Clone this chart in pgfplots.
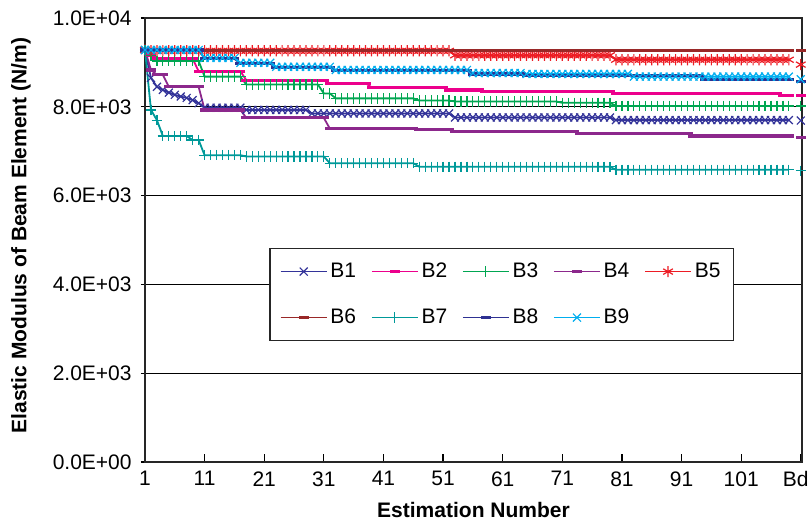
\documentclass[border=0pt]{standalone}
\usepackage{fontspec}
\setmainfont{Liberation Sans}
\usepackage{pgfplots}
\pgfplotsset{compat=1.18}
\usepackage{pgfplotstable}

\definecolor{colBa}{RGB}{51,51,153}
\definecolor{colBb}{RGB}{236,0,140}
\definecolor{colBc}{RGB}{0,166,81}
\definecolor{colBd}{RGB}{140,40,140}
\definecolor{colBe}{RGB}{237,28,36}
\definecolor{colBf}{RGB}{153,40,40}
\definecolor{colBg}{RGB}{0,153,153}
\definecolor{colBh}{RGB}{46,49,146}
\definecolor{colBi}{RGB}{0,174,239}

% estimation number, then B1 ... B9
\pgfplotstableread{
x b1 b2 b3 b4 b5 b6 b7 b8 b9
1 9280 9280 9280 9280 9280 9280 9280 9280 9280
2 8650 9150 9150 8830 9260 9270 7930 9280 9280
3 8450 9080 9030 8720 9260 9270 7700 9280 9280
4 8380 9080 9030 8720 9260 9270 7340 9280 9280
5 8320 9080 9030 8450 9260 9270 7340 9280 9280
6 8270 9080 9030 8450 9260 9270 7340 9280 9280
7 8230 9080 9030 8450 9260 9270 7340 9280 9280
8 8200 9080 9030 8450 9260 9270 7340 9280 9280
9 8150 9080 9030 8450 9260 9270 7250 9280 9280
10 8080 8800 9030 8450 9260 9270 7250 9280 9280
11 7980 8800 8680 7930 9260 9270 6910 9080 9100
12 7980 8800 8680 7930 9260 9270 6910 9080 9100
13 7980 8800 8680 7930 9260 9270 6910 9080 9100
14 7980 8800 8680 7930 9260 9270 6910 9080 9100
15 7980 8800 8680 7930 9260 9270 6910 9080 9100
16 7980 8800 8680 7930 9260 9270 6910 9080 9100
17 7980 8800 8680 7930 9260 9270 6910 8970 8990
18 7930 8600 8500 7750 9260 9270 6880 8970 8990
19 7930 8600 8500 7750 9260 9270 6880 8970 8990
20 7930 8600 8500 7750 9260 9270 6880 8970 8990
21 7930 8600 8500 7750 9260 9270 6880 8970 8990
22 7930 8600 8500 7750 9260 9270 6880 8970 8990
23 7930 8600 8500 7750 9260 9270 6880 8880 8900
24 7930 8600 8500 7750 9260 9270 6880 8880 8900
25 7930 8600 8500 7750 9260 9270 6880 8880 8900
26 7930 8600 8500 7750 9260 9270 6880 8880 8900
27 7930 8600 8500 7750 9260 9270 6880 8880 8900
28 7930 8600 8500 7750 9260 9270 6880 8880 8900
29 7850 8600 8500 7750 9260 9270 6880 8880 8900
30 7850 8600 8500 7750 9260 9270 6880 8880 8900
31 7850 8600 8300 7750 9260 9270 6880 8880 8900
32 7850 8530 8300 7510 9260 9270 6730 8880 8900
33 7850 8530 8190 7510 9260 9270 6730 8810 8830
34 7850 8530 8190 7510 9260 9270 6730 8810 8830
35 7850 8530 8190 7510 9260 9270 6730 8810 8830
36 7850 8530 8190 7510 9260 9270 6730 8810 8830
37 7850 8530 8190 7510 9260 9270 6730 8810 8830
38 7850 8530 8190 7510 9260 9270 6730 8810 8830
39 7850 8440 8190 7510 9260 9270 6730 8810 8830
40 7850 8440 8190 7510 9260 9270 6730 8810 8830
41 7850 8440 8190 7510 9260 9270 6730 8810 8830
42 7850 8440 8190 7510 9260 9270 6730 8810 8830
43 7850 8440 8190 7510 9260 9270 6730 8810 8830
44 7850 8440 8190 7510 9260 9270 6730 8810 8830
45 7850 8440 8190 7510 9260 9270 6730 8810 8830
46 7850 8440 8190 7510 9260 9270 6730 8810 8830
47 7850 8440 8140 7480 9260 9270 6650 8810 8830
48 7850 8440 8140 7480 9260 9270 6650 8810 8830
49 7850 8440 8140 7480 9260 9270 6650 8810 8830
50 7850 8440 8140 7480 9260 9270 6650 8810 8830
51 7850 8440 8140 7480 9260 9270 6650 8810 8830
52 7850 8380 8140 7480 9260 9270 6650 8810 8830
53 7760 8380 8120 7440 9160 9270 6650 8810 8830
54 7760 8380 8120 7440 9160 9270 6650 8810 8830
55 7760 8380 8120 7440 9160 9270 6650 8810 8830
56 7760 8380 8120 7440 9160 9270 6650 8740 8760
57 7760 8380 8120 7440 9160 9270 6650 8740 8760
58 7760 8340 8120 7440 9160 9270 6650 8740 8760
59 7760 8340 8120 7440 9160 9270 6650 8740 8760
60 7760 8340 8120 7440 9160 9270 6650 8740 8760
61 7760 8340 8120 7440 9160 9270 6650 8740 8760
62 7760 8340 8120 7440 9160 9270 6650 8740 8760
63 7760 8340 8120 7440 9160 9270 6650 8740 8760
64 7760 8340 8120 7440 9160 9270 6650 8740 8760
65 7760 8340 8120 7440 9160 9270 6650 8700 8740
66 7760 8340 8120 7440 9160 9270 6650 8700 8740
67 7760 8340 8120 7440 9160 9270 6650 8700 8740
68 7760 8340 8120 7440 9160 9270 6650 8700 8740
69 7760 8340 8120 7440 9160 9270 6650 8700 8740
70 7760 8340 8120 7440 9160 9270 6650 8700 8740
71 7760 8340 8090 7440 9160 9270 6650 8700 8740
72 7760 8340 8090 7440 9160 9270 6650 8700 8740
73 7760 8340 8090 7440 9160 9270 6650 8700 8740
74 7760 8340 8090 7390 9160 9270 6650 8700 8740
75 7760 8340 8090 7390 9160 9270 6650 8700 8740
76 7760 8340 8090 7390 9160 9270 6650 8700 8740
77 7760 8340 8090 7390 9160 9270 6650 8700 8740
78 7760 8340 8090 7390 9160 9270 6650 8700 8740
79 7760 8340 8090 7390 9160 9270 6650 8700 8740
80 7700 8300 8020 7390 9060 9270 6580 8700 8740
81 7700 8300 8020 7390 9060 9270 6580 8700 8740
82 7700 8300 8020 7390 9060 9270 6580 8700 8740
83 7700 8300 8020 7390 9060 9270 6580 8700 8680
84 7700 8300 8020 7390 9060 9270 6580 8700 8680
85 7700 8300 8020 7390 9060 9270 6580 8700 8680
86 7700 8300 8020 7390 9060 9270 6580 8700 8680
87 7700 8300 8020 7390 9060 9270 6580 8700 8680
88 7700 8300 8020 7390 9060 9270 6580 8700 8680
89 7700 8300 8020 7390 9060 9270 6580 8700 8680
90 7700 8300 8020 7390 9060 9270 6580 8700 8680
91 7700 8300 8020 7390 9060 9270 6580 8700 8680
92 7700 8300 8020 7390 9060 9270 6580 8700 8680
93 7700 8300 8020 7340 9060 9270 6580 8700 8680
94 7700 8300 8020 7340 9060 9270 6580 8700 8680
95 7700 8300 8020 7340 9060 9270 6580 8620 8680
96 7700 8300 8020 7340 9060 9270 6580 8620 8680
97 7700 8300 8020 7340 9060 9270 6580 8620 8680
98 7700 8300 8020 7340 9060 9270 6580 8620 8680
99 7700 8300 8020 7340 9060 9270 6580 8620 8680
100 7700 8300 8020 7340 9060 9270 6580 8620 8680
101 7700 8300 8020 7340 9060 9270 6580 8620 8680
102 7700 8300 8020 7340 9060 9270 6580 8620 8680
103 7700 8300 8020 7340 9060 9270 6580 8620 8680
104 7700 8300 8020 7340 9060 9270 6580 8620 8680
105 7700 8300 8020 7340 9060 9270 6580 8620 8680
106 7700 8300 8020 7340 9060 9270 6580 8620 8680
107 7700 8300 8020 7340 9060 9270 6580 8620 8680
108 7700 8250 8020 7340 9060 9270 6580 8620 8680
109 7700 8250 8020 7340 9060 9270 6580 8620 8680
}\est

% the "Bd" column, plotted at 111
\pgfplotstableread{
x b1 b2 b3 b4 b5 b6 b7 b8 b9
111 7690 8260 8020 7310 8950 9270 6560 8570 8620
}\bd

\pgfplotsset{
  sX/.style={mark=x, mark size=2.8pt, mark options={solid, line width=0.6pt}},
  sD/.style={mark=-, mark size=2.5pt, mark options={solid, line width=1.6pt}},
  sP/.style={mark=+, mark size=2.6pt, mark options={solid, line width=0.6pt}},
  sS/.style={mark=asterisk, mark size=2.8pt, mark options={solid, line width=0.6pt}},
}

\begin{document}
\fontsize{10.5}{12.6}\selectfont
\begin{tikzpicture}
\begin{axis}[
  scale only axis,
  width=328.5pt, height=222pt,
  xmin=1, xmax=111.2,
  ymin=0, ymax=10000,
  clip=false,
  scaled y ticks=false,
  xtick={1,11,21,31,41,51,61,71,81,91,101,111},
  xticklabels={1,11,21,31,41,51,61,71,81,91,101,{\hspace*{-5pt}Bd}},
  ytick={0,2000,4000,6000,8000,10000},
  yticklabels={0.0E+00,2.0E+03,4.0E+03,6.0E+03,8.0E+03,1.0E+04},
  xtick pos=bottom, ytick pos=left,
  x tick style={black, line width=0.6pt}, xtick align=inside,
  y tick style={black, line width=0.6pt}, ytick align=center,
  major tick length=4pt,
  ymajorgrids,
  grid style={black, line width=0.5pt},
  axis line style={black!85, line width=0.9pt},
  xticklabel style={yshift=-1pt},
  yticklabel style={xshift=-1pt},
  xlabel={\bfseries Estimation Number},
  ylabel={\bfseries Elastic Modulus of Beam Element (N/m)},
  xlabel style={at={(axis description cs:0.5,-0.108)}, anchor=center},
  ylabel style={at={(axis description cs:-0.189,0.51)}, anchor=center},
  every axis plot/.append style={line width=0.9pt},
  legend columns=5,
  legend image code/.code={
    \draw[#1, line width=0.7pt] (0pt,0pt) -- (23pt,0pt);
    \draw[#1, line width=0.7pt] plot coordinates {(11.5pt,0pt)};
  },
  legend style={
    at={(axis description cs:0.543,0.377)}, anchor=center,
    draw=black!85, line width=0.8pt, fill=white,
    inner sep=5pt,
    nodes={inner sep=1.5pt, text height=8pt, text depth=2pt},
    row sep=10pt,
    /tikz/every even column/.append style={column sep=6pt},
  },
]
\addplot[color=colBa, sX] table[x=x, y=b1] {\est};
\addlegendentry{B1}
\addplot[color=colBb, sD] table[x=x, y=b2] {\est};
\addlegendentry{B2}
\addplot[color=colBc, sP] table[x=x, y=b3] {\est};
\addlegendentry{B3}
\addplot[color=colBd, sD] table[x=x, y=b4] {\est};
\addlegendentry{B4}
\addplot[color=colBe, sS] table[x=x, y=b5] {\est};
\addlegendentry{B5}
\addplot[color=colBf, sD] table[x=x, y=b6] {\est};
\addlegendentry{B6}
\addplot[color=colBg, sP] table[x=x, y=b7] {\est};
\addlegendentry{B7}
\addplot[color=colBh, sD] table[x=x, y=b8] {\est};
\addlegendentry{B8}
\addplot[color=colBi, sX] table[x=x, y=b9] {\est};
\addlegendentry{B9}

\addplot[color=colBa, sX, only marks, forget plot] table[x=x, y=b1] {\bd};
\addplot[color=colBb, sD, only marks, forget plot] table[x=x, y=b2] {\bd};
\addplot[color=colBc, sP, only marks, forget plot] table[x=x, y=b3] {\bd};
\addplot[color=colBd, sD, only marks, forget plot] table[x=x, y=b4] {\bd};
\addplot[color=colBe, sS, only marks, forget plot] table[x=x, y=b5] {\bd};
\addplot[color=colBf, sD, only marks, forget plot] table[x=x, y=b6] {\bd};
\addplot[color=colBg, sP, only marks, forget plot] table[x=x, y=b7] {\bd};
\addplot[color=colBh, sD, only marks, forget plot] table[x=x, y=b8] {\bd};
\addplot[color=colBi, sX, only marks, forget plot] table[x=x, y=b9] {\bd};
\end{axis}
\pgfresetboundingbox
\path (current axis.south west) ++(-72.5pt,-30.5pt) rectangle ++(405.5pt,261.5pt);
\end{tikzpicture}
\end{document}
